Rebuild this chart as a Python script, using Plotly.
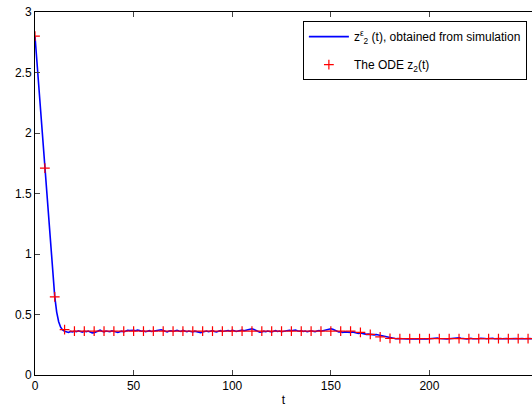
import plotly.graph_objects as go

# simulation z2^eps(t), sampled at t = 0,1,2,...,252
sim_t = list(range(0, 253))
sim_z = [
    2.80, 2.58, 2.36, 2.14, 1.92, 1.71, 1.49, 1.27, 1.06, 0.85,
    0.65, 0.52, 0.44, 0.395, 0.372, 0.362, 0.355, 0.352, 0.360, 0.356,
    0.362, 0.358, 0.365, 0.360, 0.355, 0.362, 0.358, 0.363, 0.352, 0.348,
    0.350, 0.358, 0.366, 0.370, 0.362, 0.356, 0.364, 0.360, 0.358, 0.365,
    0.360, 0.355, 0.352, 0.358, 0.362, 0.356, 0.366, 0.370, 0.368, 0.372,
    0.370, 0.366, 0.372, 0.368, 0.362, 0.365, 0.358, 0.362, 0.366, 0.360,
    0.362, 0.368, 0.364, 0.370, 0.374, 0.368, 0.360, 0.356, 0.364, 0.366,
    0.360, 0.366, 0.370, 0.364, 0.360, 0.368, 0.362, 0.358, 0.364, 0.360,
    0.356, 0.362, 0.358, 0.352, 0.350, 0.356, 0.360, 0.364, 0.358, 0.362,
    0.366, 0.360, 0.356, 0.362, 0.366, 0.360, 0.364, 0.370, 0.368, 0.362,
    0.370, 0.366, 0.360, 0.364, 0.368, 0.372, 0.366, 0.370, 0.376, 0.380,
    0.382, 0.376, 0.368, 0.360, 0.354, 0.356, 0.362, 0.358, 0.364, 0.360,
    0.356, 0.362, 0.366, 0.360, 0.364, 0.358, 0.362, 0.368, 0.372, 0.370,
    0.366, 0.368, 0.372, 0.366, 0.362, 0.366, 0.360, 0.364, 0.358, 0.362,
    0.366, 0.362, 0.358, 0.364, 0.368, 0.362, 0.366, 0.372, 0.376, 0.380,
    0.382, 0.378, 0.370, 0.362, 0.356, 0.358, 0.352, 0.356, 0.354, 0.350,
    0.352, 0.356, 0.350, 0.346, 0.344, 0.348, 0.342, 0.340, 0.336, 0.338,
    0.334, 0.336, 0.332, 0.334, 0.330, 0.326, 0.322, 0.324, 0.318, 0.312,
    0.308, 0.304, 0.302, 0.300, 0.302, 0.300, 0.298, 0.302, 0.300, 0.298,
    0.300, 0.298, 0.296, 0.298, 0.300, 0.296, 0.298, 0.300, 0.296, 0.298,
    0.300, 0.302, 0.306, 0.310, 0.306, 0.302, 0.300, 0.304, 0.300, 0.298,
    0.300, 0.302, 0.298, 0.300, 0.304, 0.308, 0.304, 0.300, 0.302, 0.298,
    0.300, 0.304, 0.300, 0.298, 0.302, 0.300, 0.304, 0.306, 0.302, 0.300,
    0.302, 0.300, 0.304, 0.300, 0.302, 0.306, 0.302, 0.300, 0.304, 0.302,
    0.300, 0.302, 0.304, 0.300, 0.302, 0.300, 0.304, 0.302, 0.300, 0.302,
    0.300, 0.302, 0.300,
]

# ODE z2(t) at t = 0,5,...,250
ode_t = list(range(0, 251, 5))
ode_z = ([2.80, 1.71, 0.645, 0.375]
         + [0.362] * 29
         + [0.352, 0.335, 0.315, 0.303]
         + [0.300] * 14)

x_ticks = [0, 50, 100, 150, 200]
y_ticks = [0, 0.5, 1, 1.5, 2, 2.5, 3]

font = dict(family="Liberation Sans, Arial, sans-serif", size=12, color="black")

fig = go.Figure()
fig.add_trace(go.Scatter(
    x=sim_t, y=sim_z, mode="lines",
    line=dict(color="#0000ff", width=1.6),
    name="z<sup>ε</sup><sub>2</sub> (t), obtained from simulation",
    legendgroup="a",
))
fig.add_trace(go.Scatter(
    x=ode_t, y=ode_z, mode="markers",
    marker=dict(symbol="cross-thin", size=7, line=dict(color="#ff0000", width=1.2), color="#ff0000"),
    name="The ODE z<sub>2</sub>(t)",
    legendgroup="b",
))
# invisible trace to activate top axis
fig.add_trace(go.Scatter(x=[0], y=[0], xaxis="x2", mode="markers",
                         marker=dict(opacity=0), showlegend=False, hoverinfo="skip"))

fig.update_layout(
    width=532, height=409,
    margin=dict(l=35, r=0, t=12, b=34),
    paper_bgcolor="white", plot_bgcolor="white",
    font=font,
    showlegend=True,
    legend=dict(x=0.539, y=0.975, xanchor="left", yanchor="top",
                bgcolor="white", bordercolor="black", borderwidth=1,
                font=font, tracegroupgap=9, itemwidth=40),
    xaxis=dict(range=[0, 252], tickvals=x_ticks, ticks="inside", ticklen=5,
               showline=True, linecolor="black", linewidth=1, showgrid=False,
               zeroline=False, title=dict(text="t", standoff=3, font=font)),
    xaxis2=dict(range=[0, 252], overlaying="x", side="top", tickvals=x_ticks,
                ticks="inside", ticklen=5, showticklabels=False,
                showline=True, linecolor="black", linewidth=1, showgrid=False, zeroline=False),
    yaxis=dict(range=[0, 3], tickvals=y_ticks, ticktext=["0", "0.5", "1", "1.5", "2", "2.5", "3"],
               ticks="inside", ticklen=5,
               showline=True, linecolor="black", linewidth=1, showgrid=False, zeroline=False),
)

fig.write_html("out.html")
